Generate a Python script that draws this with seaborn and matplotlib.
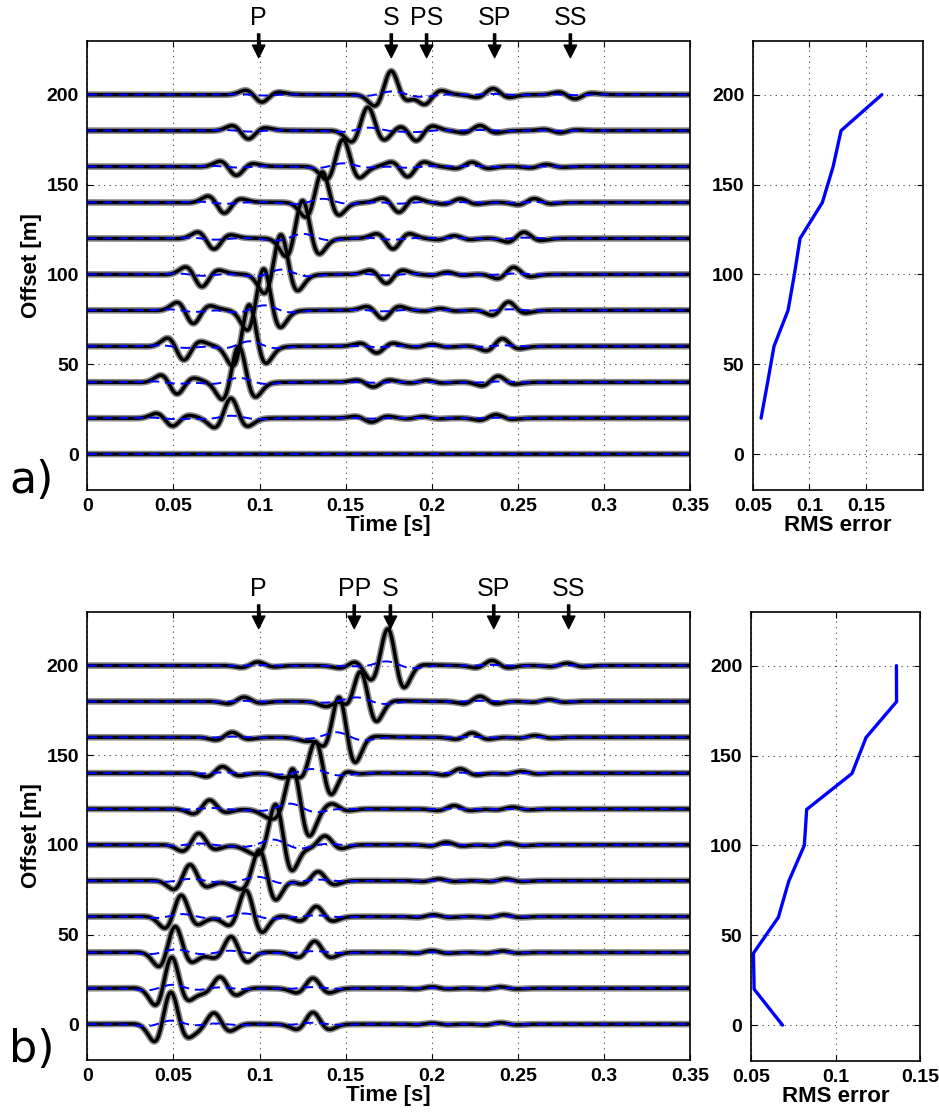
import numpy as np
import pandas as pd
import matplotlib
matplotlib.use('Agg')
import matplotlib.pyplot as plt
import seaborn as sns

sns.set_style('ticks')
plt.rcParams['font.family'] = ['Liberation Sans', 'DejaVu Sans']
plt.rcParams.update({'text.color': 'k', 'axes.labelcolor': 'k',
                     'xtick.color': 'k', 'ytick.color': 'k'})

# offsets of the traces [m]
offsets = [0, 20, 40, 60, 80, 100, 120, 140, 160, 180, 200]

# RMS error per offset
a_rms = [np.nan, 0.0574, 0.0632, 0.0688, 0.0812, 0.0868, 0.0918, 0.1115, 0.121, 0.128, 0.164]
b_rms = [0.0687, 0.052, 0.0516, 0.0663, 0.0724, 0.0816, 0.083, 0.1097, 0.118, 0.136, 0.1359]

# picked events, panel a (arrival time [s], amplitude [m of offset axis])
a_p_t = [np.nan, 0.048, 0.0506, 0.0545, 0.060, 0.065, 0.072, 0.078, 0.085, 0.092, 0.0998]
a_p_amp = [0, -4.5, -6.7, -7.8, -7.5, -7, -6, -6, -5, -4.7, -4.2]
a_s_t = [np.nan, 0.083, 0.0875, 0.0936, 0.102, 0.112, 0.1246, 0.136, 0.148, 0.1625, 0.176]
a_s_amp = [0, 11, 20, 23, 23, 22, 21, 17, 15, 13, 13]
a_ps_t = [np.nan, 0.165, 0.166, 0.168, 0.1717, 0.1736, 0.1775, 0.181, 0.186, 0.191, 0.196]
a_ps_amp = [0, -2.2, -2.6, -3.7, -4.7, -5, -5.8, -5.4, -5.6, -5.6, -5]
a_sp_t = [np.nan, 0.195, 0.197, 0.2, 0.205, 0.209, 0.213, 0.2166, 0.2234, 0.228, 0.2356]
a_sp_amp = [0, 0.8, 1, 1, 1, 1.2, 1.5, 2, 2.4, 2.8, 3.4]
a_ss_t = [np.nan, 0.2357, 0.237, 0.2395, 0.243, 0.246, 0.252, 0.258, 0.265, 0.273, 0.2816]
a_ss_amp = [0, 2, 3.4, 4.3, 4.7, 4, 3.5, 2.2, 1.2, -1.2, -2.4]

# picked events, panel b
b_p_t = [0.0475, 0.048, 0.05, 0.0535, 0.0586, 0.0637, 0.07, 0.0775, 0.083, 0.09, 0.098]
b_p_amp = [18, 17.5, 14.6, 12, 9, 6.5, 5, 3.7, 2.8, 2.4, 2]
b_s_t = [0.075, 0.0786, 0.085, 0.0936, 0.1016, 0.111, 0.121, 0.134, 0.1476, 0.16, 0.176]
b_s_amp = [6.5, 6.5, 9, 15, 18, 24, 24, 20, 24, 19, 21]
b_pp_t = [np.nan, np.nan, np.nan, np.nan, 0.093, 0.1016, 0.112, 0.122, 0.135, 0.1476, 0.156]
b_pp_amp = [0, 0, 0, 0, 2, 3, 4, 4, 3, 5, 2.8]
b_r_t = [0.131, 0.131, 0.132, 0.133, 0.134, 0.138, 0.142, 0.148, np.nan, np.nan, np.nan]
b_r_amp = [6.5, 5.6, 6.2, 5.6, 4.9, 4.7, 2.4, 1.5, 0, 0, 0]
b_sp_t = [0.2, 0.2, 0.2, 0.201, 0.204, 0.2085, 0.213, 0.2166, 0.2234, 0.228, 0.235]
b_sp_amp = [0.6, 0.8, 1, 1, 1, 1.5, 1.9, 2.4, 2.4, 2.8, 2.8]
b_ss_t = [0.24, 0.24, 0.241, 0.242, 0.243, 0.244, 0.247, 0.252, 0.26, 0.268, 0.2786]
b_ss_amp = [0.8, 0.8, 0.8, 1, 1, 1, 1, 1, 1, 1, 1.3]

# phase labels above the panels
a_labels = ['P', 'S', 'PS', 'SP', 'SS']
a_label_t = [0.0995, 0.1765, 0.197, 0.2365, 0.2805]
b_labels = ['P', 'PP', 'S', 'SP', 'SS']
b_label_t = [0.0995, 0.155, 0.176, 0.236, 0.2795]

t = np.linspace(0, 0.35, 1401)


def ricker(tau, f):
    u = (np.pi * f * tau) ** 2
    return (1 - 2 * u) * np.exp(-u)


def hilb(x):
    n = len(x)
    h = np.zeros(n)
    h[0] = 1
    if n % 2 == 0:
        h[n // 2] = 1
        h[1:n // 2] = 2
    else:
        h[1:(n + 1) // 2] = 2
    return np.fft.ifft(np.fft.fft(x) * h).imag


def make_trace(i, events, f):
    s = np.zeros_like(t)
    for times, amps, phase in events:
        if amps[i] == 0 or np.isnan(times[i]):
            continue
        r = ricker(t - times[i], f)
        ph = np.deg2rad(phase)
        s += amps[i] * (np.cos(ph) * r + np.sin(ph) * hilb(r))
    return s


events_a = [(a_p_t, a_p_amp, 30), (a_s_t, a_s_amp, 8), (a_ps_t, a_ps_amp, 0),
            (a_sp_t, a_sp_amp, 0), (a_ss_t, a_ss_amp, 30)]
events_b = [(b_p_t, b_p_amp, 20), (b_s_t, b_s_amp, -30), (b_pp_t, b_pp_amp, 0),
            (b_r_t, b_r_amp, 0), (b_sp_t, b_sp_amp, 0), (b_ss_t, b_ss_amp, 0)]

fig = plt.figure(figsize=(9.39, 11.19), dpi=100)
ax_a = fig.add_axes([0.093, 0.5621, 0.6419, 0.4015])
ax_ar = fig.add_axes([0.8016, 0.5621, 0.181, 0.4015])
ax_b = fig.add_axes([0.093, 0.0527, 0.6419, 0.4006])
ax_br = fig.add_axes([0.7995, 0.0518, 0.1806, 0.4015])

tick_font = dict(fontsize=14, fontweight='bold')
label_font = dict(fontsize=16, fontweight='bold')


def style_axis(ax):
    ax.set_ylim(-20, 230)
    ax.set_yticks([0, 50, 100, 150, 200])
    ax.set_yticklabels(['0', '50', '100', '150', '200'], **tick_font)
    ax.grid(True, linestyle=(0, (1, 4)), color='0.25', lw=0.8)
    ax.tick_params(direction='in', top=True, right=True, length=4, width=0.8, pad=6)
    for sp in ax.spines.values():
        sp.set_linewidth(1.2)
        sp.set_color('k')


def draw_traces(ax, events, labels, label_t):
    for i, off in enumerate(offsets):
        s = make_trace(i, events, 40)
        smooth = make_trace(i, events, 24) * 0.12
        ax.plot(t, off + s, color='0.55', lw=4.8, zorder=2)
        ax.plot(t, off + s, color='k', lw=2.5, zorder=3)
        ax.plot(t, off + smooth, color='b', lw=1.4, dashes=(5, 3), zorder=4)
    ax.set_xlim(0, 0.35)
    xt = [0, 0.05, 0.1, 0.15, 0.2, 0.25, 0.3, 0.35]
    ax.set_xticks(xt)
    ax.set_xticklabels(['0', '0.05', '0.1', '0.15', '0.2', '0.25', '0.3', '0.35'], **tick_font)
    style_axis(ax)
    ax.set_xlabel('Time [s]', labelpad=0, **label_font)
    ax.set_ylabel('Offset [m]', labelpad=3, **label_font)
    for lab, lt in zip(labels, label_t):
        ax.annotate('', xy=(lt, 220.6), xytext=(lt, 233.8), annotation_clip=False,
                    arrowprops=dict(facecolor='k', edgecolor='k', width=1.6,
                                    headwidth=9, headlength=9, shrink=0))
        ax.text(lt, 242.5, lab, ha='center', va='center', fontsize=18, clip_on=False)


def draw_rms(ax, rms, xmax):
    df = pd.DataFrame({'offset': offsets, 'rms': rms}).dropna()
    sns.lineplot(data=df, x='rms', y='offset', sort=False, estimator=None,
                 color='b', lw=2.4, ax=ax)
    ax.set_xlim(0.05, xmax)
    ax.set_xticks([0.05, 0.1, 0.15])
    ax.set_xticklabels(['0.05', '0.1', '0.15'], **tick_font)
    style_axis(ax)
    ax.set_xlabel('RMS error', labelpad=0, **label_font)
    ax.set_ylabel('')


draw_traces(ax_a, events_a, a_labels, a_label_t)
draw_traces(ax_b, events_b, b_labels, b_label_t)
draw_rms(ax_ar, a_rms, 0.2)
draw_rms(ax_br, b_rms, 0.15)

fig.text(0.034, 0.5594, 'a)', fontsize=32, family='DejaVu Sans', ha='center', va='baseline')
fig.text(0.034, 0.0505, 'b)', fontsize=32, family='DejaVu Sans', ha='center', va='baseline')

fig.savefig('out.png', dpi=100)
